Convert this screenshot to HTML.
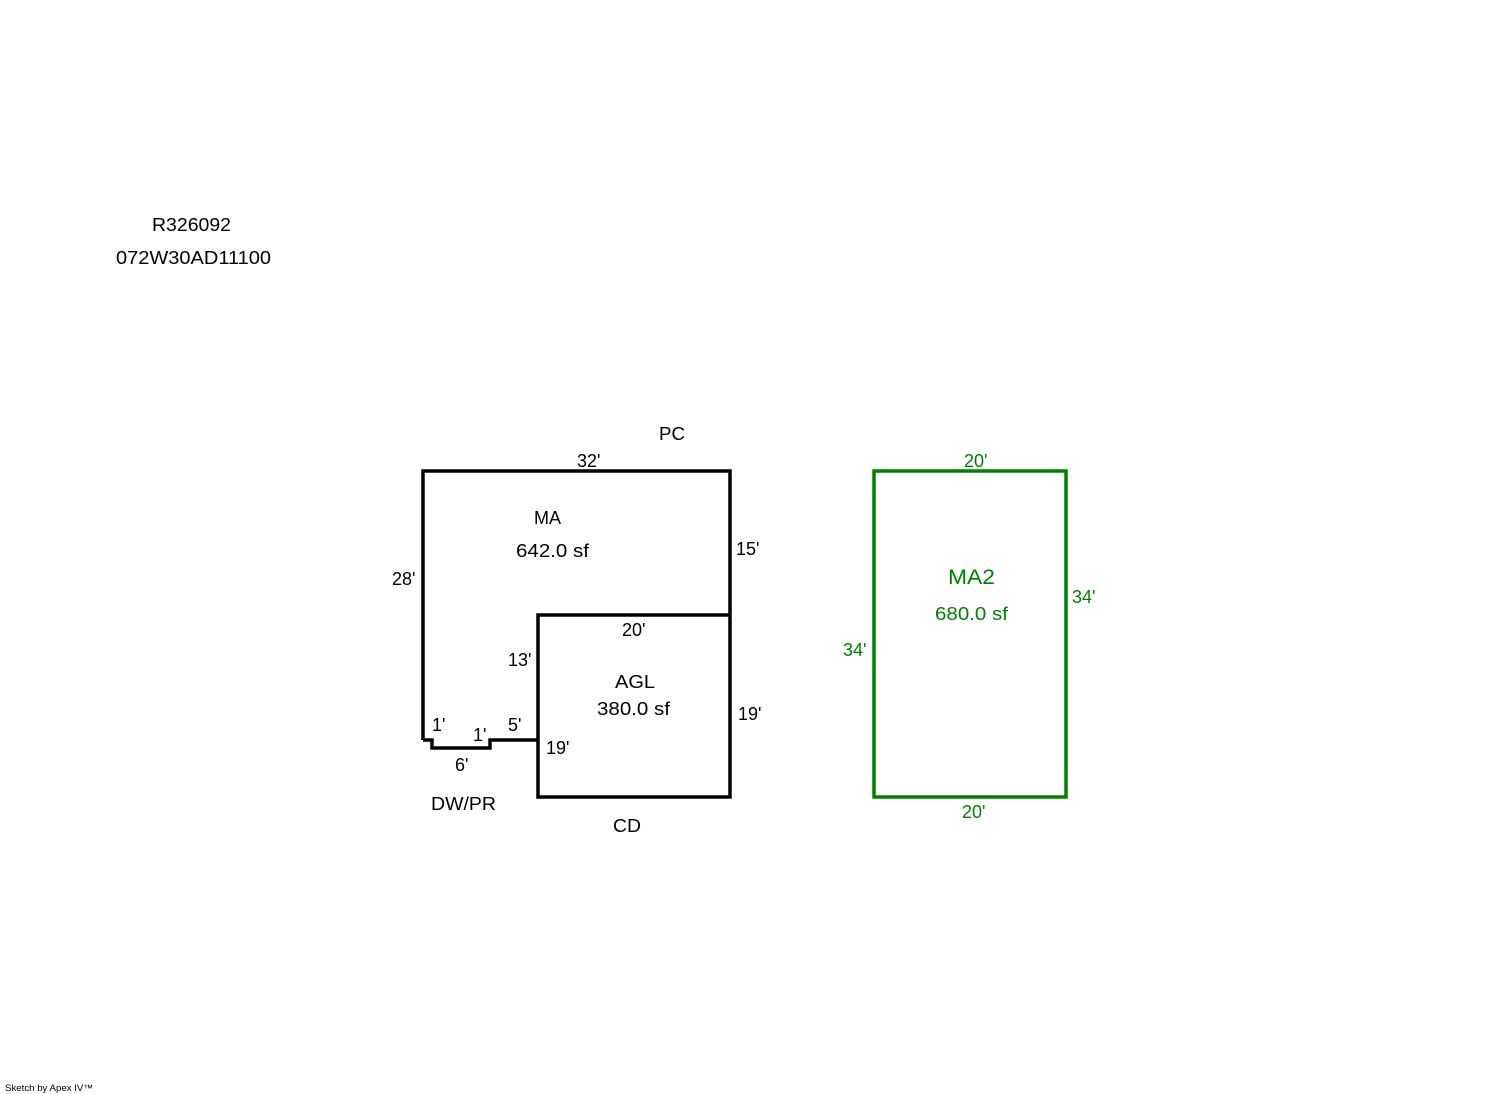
<!DOCTYPE html>
<html><head><meta charset="utf-8"><style>
html,body{margin:0;padding:0;background:#fff;}
svg{display:block;}
text{font-family:"Liberation Sans",Arial,sans-serif;font-size:18px;fill:#000;}
.g{fill:#008000;}
</style></head><body>
<svg width="1492" height="1094" viewBox="0 0 1492 1094" xmlns="http://www.w3.org/2000/svg">
<text x="152" y="231" textLength="79" lengthAdjust="spacingAndGlyphs">R326092</text>
<text x="116" y="264" textLength="155" lengthAdjust="spacingAndGlyphs">072W30AD11100</text>

<g fill="none" stroke="#000" stroke-width="3.5" stroke-linejoin="miter">
<path d="M423,740 L423,471 L730,471 L730,797 L538,797 L538,615 L730,615"/>
<path d="M423,740 L432,740 L432,748 L490,748 L490,740 L538,740"/>
</g>
<rect x="874" y="471" width="192" height="326" fill="none" stroke="#008000" stroke-width="3.5"/>

<text x="659" y="440" textLength="26" lengthAdjust="spacingAndGlyphs">PC</text>
<text x="577" y="467">32'</text>
<text x="534" y="524">MA</text>
<text x="516" y="557" textLength="73" lengthAdjust="spacingAndGlyphs">642.0 sf</text>
<text x="736" y="555">15'</text>
<text x="392" y="585">28'</text>
<text x="622" y="636">20'</text>
<text x="508" y="666">13'</text>
<text x="615" y="688" textLength="40" lengthAdjust="spacingAndGlyphs">AGL</text>
<text x="597" y="715" textLength="73" lengthAdjust="spacingAndGlyphs">380.0 sf</text>
<text x="738" y="720">19'</text>
<text x="432" y="731">1'</text>
<text x="473" y="741">1'</text>
<text x="508" y="731">5'</text>
<text x="546" y="754">19'</text>
<text x="455" y="771">6'</text>
<text x="431" y="810" textLength="65" lengthAdjust="spacingAndGlyphs">DW/PR</text>
<text x="613" y="832" textLength="28" lengthAdjust="spacingAndGlyphs">CD</text>

<text class="g" x="964" y="467">20'</text>
<text class="g" x="948" y="584" style="font-size:21px" textLength="47" lengthAdjust="spacingAndGlyphs">MA2</text>
<text class="g" x="935" y="620" textLength="73" lengthAdjust="spacingAndGlyphs">680.0 sf</text>
<text class="g" x="1072" y="603">34'</text>
<text class="g" x="843" y="656">34'</text>
<text class="g" x="962" y="818">20'</text>

<text x="5" y="1091" style="font-size:9px" textLength="88" lengthAdjust="spacingAndGlyphs">Sketch by Apex IV™</text>
</svg>
</body></html>
